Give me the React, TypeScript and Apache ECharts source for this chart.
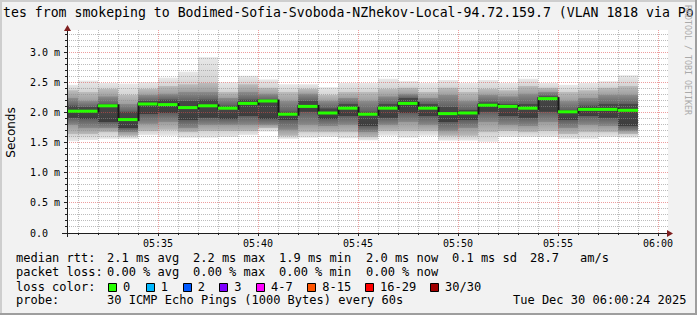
import React, { useEffect, useRef } from "react";
import * as echarts from "echarts";

// ---- data ----
const binEnd = [
  "05:31", "05:32", "05:33", "05:34", "05:35", "05:36", "05:37", "05:38", "05:39", "05:40",
  "05:41", "05:42", "05:43", "05:44", "05:45", "05:46", "05:47", "05:48", "05:49", "05:50",
  "05:51", "05:52", "05:53", "05:54", "05:55", "05:56", "05:57", "05:58", "05:59",
];
const median = [2.03, 2.03, 2.12, 1.89, 2.15, 2.14, 2.09, 2.12, 2.08, 2.16, 2.2, 1.98, 2.11, 2.0, 2.08, 1.98, 2.08, 2.16, 2.08, 1.99, 2.0, 2.13, 2.11, 2.08, 2.24, 2.02, 2.06, 2.06, 2.045];
const smokeMax = [2.47, 2.54, 2.5, 2.49, 2.51, 2.59, 2.69, 2.93, 2.51, 2.62, 2.56, 2.48, 2.48, 2.43, 2.5, 2.5, 2.57, 2.53, 2.5, 2.55, 2.5, 2.55, 2.5, 2.57, 2.5, 2.47, 2.5, 2.53, 2.63];
const smokeHi1 = [2.38, 2.35, 2.4, 2.3, 2.4, 2.45, 2.48, 2.5, 2.35, 2.48, 2.42, 2.35, 2.4, 2.3, 2.35, 2.35, 2.4, 2.42, 2.35, 2.42, 2.35, 2.4, 2.38, 2.45, 2.42, 2.35, 2.38, 2.42, 2.45];
const smokeHi2 = [2.25, 2.2, 2.28, 2.15, 2.3, 2.32, 2.35, 2.35, 2.25, 2.35, 2.32, 2.2, 2.32, 2.2, 2.25, 2.2, 2.28, 2.32, 2.25, 2.3, 2.2, 2.3, 2.28, 2.32, 2.35, 2.2, 2.25, 2.3, 2.3];
const smokeHi3 = [2.12, 2.1, 2.15, 2.02, 2.2, 2.22, 2.2, 2.22, 2.12, 2.22, 2.22, 2.02, 2.2, 2.08, 2.15, 2.02, 2.15, 2.25, 2.15, 2.1, 2.05, 2.18, 2.15, 2.15, 2.28, 2.05, 2.12, 2.15, 2.15];
const smokeLo3 = [1.92, 1.9, 1.85, 1.75, 1.98, 2.0, 1.88, 1.92, 1.9, 1.95, 1.9, 1.88, 2.02, 1.9, 1.95, 1.78, 1.92, 2.0, 1.95, 1.85, 1.88, 2.02, 1.95, 1.92, 2.02, 1.88, 1.95, 1.92, 1.78];
const smokeLo2 = [1.8, 1.75, 1.75, 1.68, 1.82, 1.85, 1.75, 1.8, 1.8, 1.8, 1.8, 1.72, 1.8, 1.78, 1.8, 1.68, 1.8, 1.85, 1.8, 1.7, 1.75, 1.85, 1.8, 1.78, 1.85, 1.75, 1.8, 1.78, 1.7];
const smokeLo1 = [1.65, 1.65, 1.68, 1.62, 1.7, 1.72, 1.68, 1.7, 1.7, 1.7, 1.75, 1.62, 1.68, 1.68, 1.68, 1.6, 1.7, 1.7, 1.7, 1.62, 1.62, 1.68, 1.7, 1.68, 1.7, 1.65, 1.68, 1.68, 1.65];
const smokeMin = [1.53, 1.55, 1.57, 1.57, 1.63, 1.62, 1.59, 1.59, 1.6, 1.63, 1.69, 1.57, 1.59, 1.6, 1.58, 1.545, 1.62, 1.59, 1.62, 1.54, 1.54, 1.52, 1.6, 1.6, 1.6, 1.57, 1.57, 1.6, 1.59];

const xStart = "05:30:27";
const xEnd = "06:00:30";
const xLabelTimes = ["05:35", "05:40", "05:45", "05:50", "05:55", "06:00"];
const yLabelValues = [0, 0.5, 1.0, 1.5, 2.0, 2.5, 3.0];
const yMax = 3.3833;

const lossLabels = ["0", "1", "2", "3", "4-7", "8-15", "16-29", "30/30"];
const lossColors = ["#26ff00", "#00b8ff", "#0059ff", "#7e00ff", "#ff00ff", "#ff5500", "#ff0000", "#a00000"];

const titleText = "tes from smokeping to Bodimed-Sofia-Svoboda-NZhekov-Local-94.72.159.7 (VLAN 1818 via Po";
const legendRtt = ["median rtt:", "2.1 ms avg", "2.2 ms max", "1.9 ms min", "2.0 ms now", "0.1 ms sd", "28.7", "am/s"];
const legendLoss = ["packet loss:", "0.00 % avg", "0.00 % max", "0.00 % min", "0.00 % now"];
const probeText = "30 ICMP Echo Pings (1000 Bytes) every 60s";
const stampText = "Tue Dec 30 06:00:24 2025";

// ---- helpers ----
function toMin(s: string): number {
  const p = s.split(":").map(Number);
  return p[0] * 60 + p[1] + (p.length > 2 ? p[2] / 60 : 0);
}
function pad(n: number) {
  return (n < 10 ? "0" : "") + n;
}
function fmtTime(v: number) {
  const r = Math.round(v);
  return pad(Math.floor(r / 60)) + ":" + pad(r % 60);
}

const MONO = "DejaVu Sans Mono";
const AXIS_COL = "#1f1f1f";
const GRID_COL = "rgba(143,143,143,0.6)";
const MGRID_COL = "rgba(222,79,79,0.55)";

const smokeColors: [string, string][] = [
  ["#e8e8e8", "#d2d2d2"],
  ["#bcbcbc", "#9c9c9c"],
  ["#8c8c8c", "#5e5e5e"],
  ["#484848", "#3c3c3c"],
  ["#5e5e5e", "#8c8c8c"],
  ["#9c9c9c", "#bcbcbc"],
  ["#d2d2d2", "#e8e8e8"],
];

export default function App() {
  const ref = useRef<HTMLDivElement>(null);

  useEffect(() => {
    if (!ref.current) return;
    const chart = echarts.init(ref.current, undefined, { renderer: "svg" });

    const tEnds = binEnd.map(toMin);
    const smokeData = tEnds.map((t, i) => [
      t, smokeMax[i], smokeHi1[i], smokeHi2[i], smokeHi3[i], smokeLo3[i], smokeLo2[i], smokeLo1[i], smokeMin[i],
    ]);
    const medianData = tEnds.map((t, i) => [t, median[i], i > 0 ? median[i - 1] : median[i]]);

    const xMin = toMin(xStart);
    const xMax = toMin(xEnd);
    const vGrid: number[][] = [];
    for (let m = Math.ceil(xMin); m <= Math.floor(xMax); m++) vGrid.push([m, 0]);
    const hGrid: number[][] = [];
    for (let k = 1; k * 0.1 <= yMax; k++) hGrid.push([xMin, Math.round(k) / 10, k % 5 === 0 ? 1 : 0]);

    const lossItems: any[] = [];
    const boxX = [108, 145.7, 182.7, 219.3, 256, 307.3, 365, 430];
    lossLabels.forEach((lab, i) => {
      lossItems.push({
        type: "rect",
        shape: { x: Math.round(boxX[i]) + 0.5, y: 283.5, width: 8, height: 8 },
        style: { fill: lossColors[i], stroke: "#000", lineWidth: 1 },
      });
      lossItems.push({
        type: "text",
        style: { text: lab, x: boxX[i] + 15, y: 286.5, font: `12px '${MONO}'`, fill: "#000", verticalAlign: "middle", textVerticalAlign: "middle" },
      });
    });

    const rttX = [16, 107, 193, 279, 366, 452, 530, 580];
    const lossX = [16, 107, 193, 279, 366];

    const txt = (text: string, x: number, y: number, size = 12, extra: any = {}) => ({
      type: "text",
      style: {
        text, x, y, font: `${size}px '${MONO}'`, fill: "#000",
        align: "left", textAlign: "left", verticalAlign: "middle", textVerticalAlign: "middle",
      },
      ...extra,
    });

    const option: any = {
      animation: false,
      backgroundColor: "#f2f2f2",
      grid: {
        left: 67, right: 29, top: 30, bottom: 82,
        show: true, backgroundColor: "#ffffff", borderWidth: 0,
        containLabel: false, outerBoundsMode: "none",
      },
      xAxis: {
        type: "value", min: xMin, max: xMax, z: 5,
        axisLine: { show: true, lineStyle: { color: AXIS_COL, width: 1 } },
        axisTick: { show: false },
        splitLine: { show: false },
        axisLabel: {
          customValues: xLabelTimes.map(toMin),
          formatter: (v: number) => fmtTime(v),
          fontFamily: MONO, fontSize: 10, color: "#000", margin: 5,
        },
      },
      yAxis: {
        type: "value", min: 0, max: yMax, z: 5,
        axisLine: { show: true, lineStyle: { color: AXIS_COL, width: 1 } },
        axisTick: { show: false },
        splitLine: { show: false },
        axisLabel: {
          customValues: yLabelValues,
          formatter: (v: number) => (v === 0 ? "0.0" : v.toFixed(1) + " m"),
          fontFamily: MONO, fontSize: 10, color: "#000", align: "left", margin: 37,
        },
      },
      series: [
        {
          type: "custom", name: "smoke", z: 2, clip: true,
          encode: { x: 0, y: 1 },
          data: smokeData,
          renderItem: (params: any, api: any) => {
            const t = api.value(0);
            const xa = api.coord([t - 1, 0])[0];
            const xb = api.coord([t, 0])[0];
            const lv: number[] = [];
            for (let i = 1; i <= 8; i++) lv.push(api.coord([t, api.value(i)])[1]);
            const children: any[] = [];
            for (let k = 0; k < 7; k++) {
              const y0 = lv[k];
              const h = Math.max(0, lv[k + 1] - y0);
              children.push({
                type: "rect",
                shape: { x: xa, y: y0, width: xb - xa, height: h + (k < 6 ? 0.6 : 0) },
                style: {
                  fill: new echarts.graphic.LinearGradient(0, 0, 0, 1, [
                    { offset: 0, color: smokeColors[k][0] },
                    { offset: 1, color: smokeColors[k][1] },
                  ]),
                },
              });
            }
            return { type: "group", children };
          },
        },
        {
          type: "custom", name: "vgrid", z: 3, clip: false,
          encode: { x: 0, y: 1 },
          data: vGrid,
          renderItem: (params: any, api: any) => {
            const m = api.value(0);
            const cs = params.coordSys;
            const x = Math.floor(api.coord([m, 0])[0]) + 0.5;
            const major = Math.round(m) % 5 === 0;
            const bottom = cs.y + cs.height;
            return {
              type: "group",
              children: [
                { type: "line", shape: { x1: x, y1: cs.y, x2: x, y2: bottom }, style: { stroke: major ? MGRID_COL : GRID_COL, lineWidth: 1, lineDash: [1, 1] } },
                { type: "line", shape: { x1: x, y1: bottom, x2: x, y2: bottom + (major ? 3 : 2) }, style: { stroke: AXIS_COL, lineWidth: 1 } },
              ],
            };
          },
        },
        {
          type: "custom", name: "hgrid", z: 3, clip: false,
          encode: { x: 0, y: 1 },
          data: hGrid,
          renderItem: (params: any, api: any) => {
            const v = api.value(1);
            const major = api.value(2) === 1;
            const cs = params.coordSys;
            const y = Math.floor(api.coord([0, v])[1]) + 0.5;
            return {
              type: "group",
              children: [
                { type: "line", shape: { x1: cs.x, y1: y, x2: cs.x + cs.width, y2: y }, style: { stroke: major ? MGRID_COL : GRID_COL, lineWidth: 1, lineDash: [1, 1] } },
                { type: "line", shape: { x1: cs.x - (major ? 3 : 2), y1: y, x2: cs.x, y2: y }, style: { stroke: AXIS_COL, lineWidth: 1 } },
              ],
            };
          },
        },
        {
          type: "custom", name: "median", z: 4, clip: true,
          encode: { x: 0, y: 1 },
          data: medianData,
          renderItem: (params: any, api: any) => {
            const t = api.value(0);
            const xa = api.coord([t - 1, 0])[0];
            const xb = api.coord([t, 0])[0];
            const y = api.coord([t, api.value(1)])[1];
            const yp = api.coord([t, api.value(2)])[1];
            const children: any[] = [];
            if (Math.abs(yp - y) > 0.5) {
              children.push({
                type: "line",
                shape: { x1: xa + 0.5, y1: Math.min(yp, y) - 1.5, x2: xa + 0.5, y2: Math.max(yp, y) + 1.5 },
                style: { stroke: "#1a1a1a", lineWidth: 2 },
              });
            }
            children.push({ type: "rect", shape: { x: xa, y: y - 1.5, width: xb - xa, height: 3 }, style: { fill: lossColors[0] } });
            return { type: "group", children };
          },
        },
      ],
      graphic: [
        // 3D frame
        { type: "rect", z: 100, shape: { x: 0, y: 0, width: 697, height: 2 }, style: { fill: "#cecece" } },
        { type: "rect", z: 100, shape: { x: 0, y: 0, width: 2, height: 315 }, style: { fill: "#cecece" } },
        { type: "rect", z: 100, shape: { x: 0, y: 313, width: 697, height: 2 }, style: { fill: "#9e9e9e" } },
        { type: "rect", z: 100, shape: { x: 695, y: 0, width: 2, height: 315 }, style: { fill: "#9e9e9e" } },
        // axis extensions and arrows
        { type: "line", z: 100, shape: { x1: 62, y1: 233.5, x2: 67, y2: 233.5 }, style: { stroke: AXIS_COL, lineWidth: 1 } },
        { type: "line", z: 100, shape: { x1: 67.5, y1: 233, x2: 67.5, y2: 237 }, style: { stroke: AXIS_COL, lineWidth: 1 } },
        { type: "polygon", z: 100, shape: { points: [[64, 31], [71, 31], [67.5, 25]] }, style: { fill: "#7f1f1f" } },
        { type: "polygon", z: 100, shape: { points: [[667, 230], [667, 237], [673, 233.5]] }, style: { fill: "#7f1f1f" } },
        // title
        txt(titleText, 3, 12.3, 13.2),
        // y axis name
        {
          type: "text", z: 100, x: 10.5, y: 132.5, rotation: Math.PI / 2,
          style: { text: "Seconds", x: 0, y: 0, font: "12px 'DejaVu Sans'", fill: "#000", align: "center", textAlign: "center", verticalAlign: "middle", textVerticalAlign: "middle" },
        },
        // watermark
        {
          type: "text", z: 100, x: 688, y: 60, rotation: -Math.PI / 2,
          style: { text: "RRDTOOL / TOBI OETIKER", x: 0, y: 0, font: `8.3px '${MONO}'`, fill: "#aaaaaa", align: "center", textAlign: "center", verticalAlign: "middle", textVerticalAlign: "middle" },
        },
        // legend rows
        ...legendRtt.map((s, i) => txt(s, rttX[i], 258.3)),
        ...legendLoss.map((s, i) => txt(s, lossX[i], 272)),
        txt("loss color:", 16, 286.5),
        ...lossItems,
        txt("probe:", 16, 300),
        txt(probeText, 107, 300),
        txt(stampText, 513, 300),
      ],
    };

    chart.setOption(option);
    return () => chart.dispose();
  }, []);

  return <div ref={ref} style={{ position: "absolute", left: 0, top: 0, width: 697, height: 315 }} />;
}
